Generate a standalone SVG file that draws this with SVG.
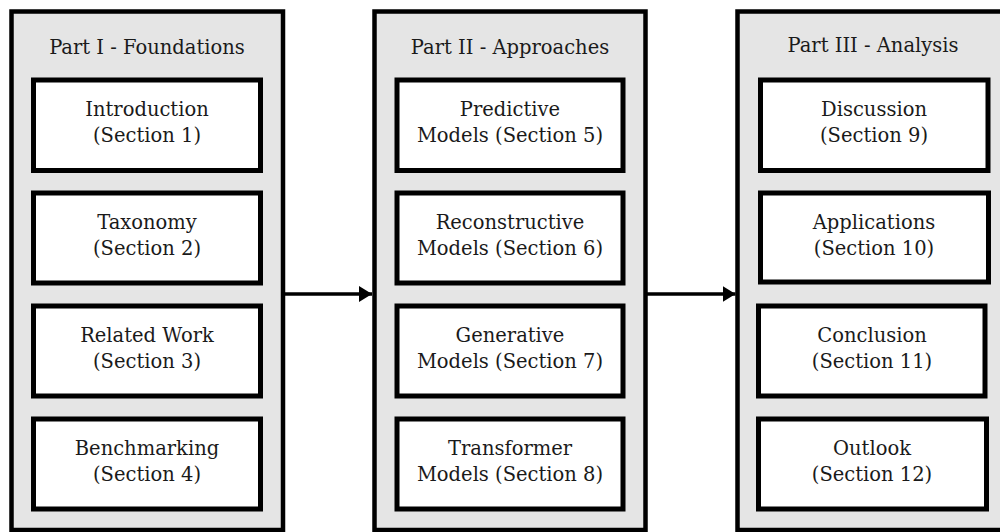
<svg xmlns="http://www.w3.org/2000/svg" width="1000" height="532" viewBox="0 0 1000 532">
<defs>
<style>
.panel{fill:#e5e5e5;stroke:#000;stroke-width:4.5}
.box{fill:#fff;stroke:#000;stroke-width:5}
.t{font-family:"DejaVu Serif","Liberation Serif",serif;font-size:19.5px;fill:#1a1a1a;text-anchor:middle}
.conn{stroke:#000;stroke-width:3.5;fill:none}
</style>
<marker id="ah" viewBox="0 0 13 16" refX="13" refY="8" markerWidth="13" markerHeight="16" markerUnits="userSpaceOnUse" orient="auto">
<path d="M0,0 L13,8 L0,16 Z" fill="#000"/>
</marker>
</defs>
<rect width="1000" height="532" fill="#fff"/>
<g id="part1">
<rect class="panel" x="11.5" y="11.5" width="271.5" height="518.5"/>
<text class="t" x="147" y="54">Part I - Foundations</text>
</g>
<g id="part2">
<rect class="panel" x="374.5" y="11.5" width="271" height="518.5"/>
<text class="t" x="510" y="54">Part II - Approaches</text>
</g>
<g id="part3">
<rect class="panel" x="737.5" y="11.5" width="272" height="518.5"/>
<text class="t" x="873" y="52">Part III - Analysis</text>
</g>
<g id="sec1"><rect class="box" x="33.5" y="80" width="227" height="90.5"/><text class="t" x="147" y="116">Introduction</text><text class="t" x="147" y="141.5">(Section 1)</text></g>
<g id="sec2"><rect class="box" x="33.5" y="193" width="227" height="90"/><text class="t" x="147" y="229">Taxonomy</text><text class="t" x="147" y="254.5">(Section 2)</text></g>
<g id="sec3"><rect class="box" x="33.5" y="306" width="227" height="90"/><text class="t" x="147" y="342">Related Work</text><text class="t" x="147" y="367.5">(Section 3)</text></g>
<g id="sec4"><rect class="box" x="33.5" y="419" width="227" height="90"/><text class="t" x="147" y="455">Benchmarking</text><text class="t" x="147" y="480.5">(Section 4)</text></g>
<g id="sec5"><rect class="box" x="397" y="80" width="226" height="90.5"/><text class="t" x="510" y="116">Predictive</text><text class="t" x="510" y="141.5">Models (Section 5)</text></g>
<g id="sec6"><rect class="box" x="397" y="193" width="226" height="90"/><text class="t" x="510" y="229">Reconstructive</text><text class="t" x="510" y="254.5">Models (Section 6)</text></g>
<g id="sec7"><rect class="box" x="397" y="306" width="226" height="90"/><text class="t" x="510" y="342">Generative</text><text class="t" x="510" y="367.5">Models (Section 7)</text></g>
<g id="sec8"><rect class="box" x="397" y="419" width="226" height="90"/><text class="t" x="510" y="455">Transformer</text><text class="t" x="510" y="480.5">Models (Section 8)</text></g>
<g id="sec9"><rect class="box" x="760.5" y="80" width="227.5" height="90.5"/><text class="t" x="874" y="116">Discussion</text><text class="t" x="874" y="141.5">(Section 9)</text></g>
<g id="sec10"><rect class="box" x="760.5" y="193" width="228" height="89"/><text class="t" x="874" y="229">Applications</text><text class="t" x="874" y="254.5">(Section 10)</text></g>
<g id="sec11"><rect class="box" x="758.5" y="306" width="226.5" height="90"/><text class="t" x="872" y="342">Conclusion</text><text class="t" x="872" y="367.5">(Section 11)</text></g>
<g id="sec12"><rect class="box" x="758.5" y="419" width="228" height="90"/><text class="t" x="872" y="455">Outlook</text><text class="t" x="872" y="480.5">(Section 12)</text></g>
<g id="connectors">
<line class="conn" x1="284" y1="294" x2="372" y2="294" marker-end="url(#ah)"/>
<line class="conn" x1="647" y1="294" x2="735.5" y2="294" marker-end="url(#ah)"/>
</g>
</svg>
